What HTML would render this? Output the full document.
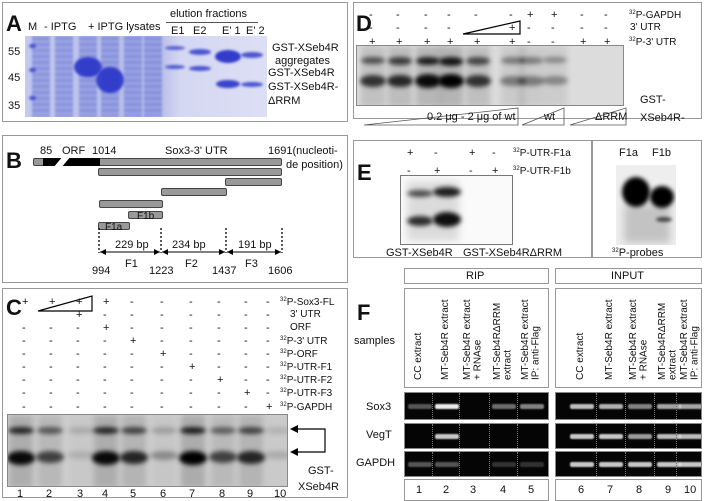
<!DOCTYPE html>
<html><head><meta charset="utf-8">
<style>
*{box-sizing:border-box;margin:0;padding:0}
body{width:705px;height:501px;background:#fff;position:relative;overflow:hidden;font-family:"Liberation Sans",sans-serif;color:#111}
.a{position:absolute}
.box{position:absolute;border:1.5px solid #999}
.t{position:absolute;font-size:11px;white-space:nowrap;line-height:1}
.s{font-size:10px}
.big{position:absolute;font-weight:bold;font-size:22px;line-height:1}
.band{position:absolute;border-radius:50%}
sup{font-size:6px;vertical-align:4px}
.bar{position:absolute;height:8px;background:#999;border:1px solid #444;border-radius:2px}
.vt{position:absolute;writing-mode:vertical-rl;transform:rotate(180deg);font-size:10px;white-space:nowrap;line-height:1.05}
</style></head><body>

<!-- Panel A -->
<div class="box" style="left:2px;top:2px;width:346px;height:120px"></div>
<div class="big" style="left:6px;top:13px">A</div>
<div class="t" style="left:28px;top:22px">M</div>
<div class="t" style="left:44px;top:22px">- IPTG</div>
<div class="t" style="left:88px;top:22px">+ IPTG lysates</div>
<div class="t" style="left:170px;top:9px">elution fractions</div>
<div class="a" style="left:166px;top:22px;width:92px;height:1px;background:#555"></div>
<div class="t" style="left:171px;top:26px">E1</div>
<div class="t" style="left:193px;top:26px">E2</div>
<div class="t" style="left:222px;top:26px">E' 1</div>
<div class="t" style="left:246px;top:26px">E' 2</div>
<div class="a" id="gelA" style="left:25px;top:36px;width:242px;height:81px;background:linear-gradient(90deg,#c4c9ee 0,#b4bbe8 55%,#d4d7f2 64%,#dcdff4 100%);overflow:hidden"></div>
<div class="t" style="left:8px;top:47px">55</div>
<div class="t" style="left:8px;top:73px">45</div>
<div class="t" style="left:8px;top:101px">35</div>
<div class="t" style="left:272px;top:43px">GST-XSeb4R</div>
<div class="t" style="left:275px;top:56px">aggregates</div>
<div class="t" style="left:268px;top:68px">GST-XSeb4R</div>
<div class="t" style="left:268px;top:82px">GST-XSeb4R-</div>
<div class="t" style="left:268px;top:96px">ΔRRM</div>

<!-- Panel B -->
<div class="box" style="left:2px;top:135px;width:346px;height:148px"></div>
<div class="big" style="left:6px;top:150px">B</div>
<div class="t" style="left:40px;top:146px">85</div>
<div class="t" style="left:62px;top:146px">ORF</div>
<div class="t" style="left:92px;top:146px">1014</div>
<div class="t" style="left:165px;top:146px">Sox3-3' UTR</div>
<div class="t" style="left:268px;top:146px">1691(nucleoti-</div>
<div class="t" style="left:286px;top:160px">de position)</div>
<div class="bar" style="left:33px;top:158px;width:249px"></div>
<div class="a" style="left:43px;top:158px;width:57px;height:8px;background:#000"></div>
<div class="a" style="left:58px;top:155px;width:8px;height:14px;background:#fff;transform:skewX(-40deg)"></div>
<div class="bar" style="left:98px;top:168px;width:184px"></div>
<div class="bar" style="left:225px;top:178px;width:57px"></div>
<div class="bar" style="left:161px;top:188px;width:66px"></div>
<div class="bar" style="left:99px;top:200px;width:64px"></div>
<div class="bar" style="left:128px;top:211px;width:35px"></div>
<div class="t s" style="left:137px;top:212px">F1b</div>
<div class="bar" style="left:98px;top:222px;width:32px"></div>
<div class="t s" style="left:105px;top:223px">F1a</div>
<svg class="a" style="left:0;top:0" width="350" height="285">
<g stroke="#000" stroke-dasharray="2,2" stroke-width="1.3"><line x1="99" y1="228" x2="99" y2="253"/><line x1="161" y1="228" x2="161" y2="253"/><line x1="226" y1="228" x2="226" y2="253"/><line x1="282" y1="228" x2="282" y2="253"/></g>
<g stroke="#000" stroke-width="1"><line x1="100" y1="252" x2="160" y2="252"/><line x1="162" y1="252" x2="225" y2="252"/><line x1="227" y1="252" x2="281" y2="252"/></g>
<g fill="#000"><polygon points="100,252 106,249 106,255"/><polygon points="160,252 154,249 154,255"/><polygon points="162,252 168,249 168,255"/><polygon points="225,252 219,249 219,255"/><polygon points="227,252 233,249 233,255"/><polygon points="281,252 275,249 275,255"/></g>
</svg>
<div class="t" style="left:115px;top:240px;background:#fff">229 bp</div>
<div class="t" style="left:172px;top:240px;background:#fff">234 bp</div>
<div class="t" style="left:238px;top:240px;background:#fff">191 bp</div>
<div class="t" style="left:125px;top:259px">F1</div>
<div class="t" style="left:185px;top:259px">F2</div>
<div class="t" style="left:245px;top:259px">F3</div>
<div class="t" style="left:92px;top:266px">994</div>
<div class="t" style="left:149px;top:266px">1223</div>
<div class="t" style="left:212px;top:266px">1437</div>
<div class="t" style="left:268px;top:266px">1606</div>

<!-- Panel C -->
<div class="box" style="left:2px;top:288px;width:346px;height:210px"></div>
<div class="big" style="left:6px;top:297px">C</div>
<div id="cgrid"></div>
<svg class="a" style="left:0;top:288px" width="350" height="30"><polygon points="38,23 92,8 92,23" fill="none" stroke="#000" stroke-width="1.2"/></svg>
<div class="a" id="gelC" style="left:7px;top:414px;width:281px;height:73px;background:#cfcfcf;border:1px solid #888;overflow:hidden"></div>
<svg class="a" style="left:288px;top:420px" width="40" height="45">
<polyline points="8,9 37,9 37,32 8,32" fill="none" stroke="#000" stroke-width="1.2"/>
<polygon points="2,9 10,5 10,13"/><polygon points="2,32 10,28 10,36"/></svg>
<div class="t" style="left:308px;top:466px">GST-</div>
<div class="t" style="left:298px;top:482px">XSeb4R</div>

<!-- Panel D -->
<div class="box" style="left:353px;top:2px;width:349px;height:117px"></div>
<div class="big" style="left:356px;top:13px">D</div>
<div id="dgrid"></div>
<svg class="a" style="left:350px;top:0" width="355" height="130">
<polygon points="113,34 170,21 170,34" fill="none" stroke="#000" stroke-width="1.2"/>
<g fill="none" stroke="#555" stroke-width="0.8">
<polygon points="14,125 168,108 168,125"/><polygon points="172,125 214,108 214,125"/><polygon points="220,125 276,108 276,125"/></g></svg>
<div class="a" id="gelD" style="left:356px;top:45px;width:268px;height:61px;background:#dcdcdc;border:1px solid #888;overflow:hidden"></div>
<div class="t" style="left:427px;top:112px">0.2 μg - 2 μg of wt</div>
<div class="t" style="left:544px;top:112px">wt</div>
<div class="t" style="left:595px;top:112px">ΔRRM</div>
<div class="t" style="left:640px;top:95px">GST-</div>
<div class="t" style="left:640px;top:113px">XSeb4R-</div>

<!-- Panel E -->
<div class="box" style="left:353px;top:140px;width:349px;height:118px"></div>
<div class="a" style="left:591px;top:140px;width:1.5px;height:118px;background:#999"></div>
<div class="big" style="left:357px;top:162px">E</div>
<div id="egrid"></div>
<div class="a" style="left:400px;top:175px;width:113px;height:70px;background:#fafafa;border:1px solid #777;overflow:hidden">
<div class="band" style="left:6px;top:14px;width:26px;height:7px;background:#555;filter:blur(2.5px)"></div>
<div class="band" style="left:32px;top:11px;width:28px;height:10px;background:#222;filter:blur(2.5px)"></div>
<div class="band" style="left:6px;top:40px;width:26px;height:10px;background:#333;filter:blur(2.5px)"></div>
<div class="band" style="left:32px;top:36px;width:28px;height:15px;background:#111;filter:blur(2.5px)"></div>
<div class="a" style="left:6px;top:5px;width:52px;height:60px;background:rgba(0,0,0,.12);filter:blur(4px)"></div>
</div>
<div class="t" style="left:386px;top:248px">GST-XSeb4R</div>
<div class="t" style="left:463px;top:248px">GST-XSeb4RΔRRM</div>
<div class="t" style="left:619px;top:148px">F1a</div>
<div class="t" style="left:652px;top:148px">F1b</div>
<div class="a" style="left:616px;top:165px;width:60px;height:80px;background:#eee;overflow:hidden">
<div class="band" style="left:6px;top:12px;width:28px;height:30px;background:#000;filter:blur(2px)"></div>
<div class="band" style="left:34px;top:21px;width:24px;height:22px;background:#000;filter:blur(2px)"></div>
<div class="band" style="left:40px;top:52px;width:16px;height:5px;background:#555;filter:blur(1.5px)"></div>
<div class="a" style="left:8px;top:40px;width:46px;height:38px;background:rgba(0,0,0,.18);filter:blur(4px)"></div>
</div>
<div class="t" style="left:612px;top:248px"><sup>32</sup>P-probes</div>

<!-- Panel F -->
<div class="big" style="left:357px;top:302px">F</div>
<div class="t" style="left:354px;top:336px">samples</div>
<div class="box" style="left:404px;top:268px;width:145px;height:16px"></div>
<div class="t" style="left:466px;top:271px">RIP</div>
<div class="box" style="left:555px;top:268px;width:147px;height:16px"></div>
<div class="t" style="left:611px;top:271px">INPUT</div>
<div class="box" style="left:404px;top:288px;width:145px;height:100px"></div>
<div class="box" style="left:555px;top:288px;width:147px;height:100px"></div>
<div id="fgrid"></div>
<div class="t" style="left:366px;top:402px">Sox3</div>
<div class="t" style="left:366px;top:430px">VegT</div>
<div class="t" style="left:356px;top:458px">GAPDH</div>
<div class="box" style="left:404px;top:479px;width:145px;height:22px"></div>
<div class="box" style="left:555px;top:479px;width:147px;height:22px"></div>

<script>
function mk(parent,cls,style,text,name){
  const d=document.createElement('div');
  d.className=cls;d.style.cssText=style;
  if(text!==undefined)d.innerHTML=text;
  
  
  (parent||document.body).appendChild(d);return d;
}
// ---------- Panel A data ----------
const laneAx=[32,41,64,88,110,133,153,175,200,228,252];
// [x, y, width, height, darkness]
const bandsA=[[32,46,7,4,0.8],[32,70,7,4,0.8],[32,98,7,4,0.8],[88,67,28,20,0.9],[110,80,28,26,0.9],[175,48,20,4,0.7],[175,67,20,4,0.75],[200,52,22,6,0.8],[200,68,22,5,0.8],[228,56,26,13,0.95],[228,84,24,8,0.9],[252,55,22,6,0.8],[252,84,22,5,0.8]];
const gA=document.getElementById('gelA');
laneAx.slice(1,7).forEach(x=>{
  mk(gA,'a','left:'+(x-25-9)+'px;top:0;width:18px;height:81px;background:repeating-linear-gradient(180deg,#8791dc 0,#7480d8 3px,#a0a8e4 6px);opacity:.75;filter:blur(1px)','','lysate-lane');
});
bandsA.forEach(b=>{
  mk(gA,'band','left:'+(b[0]-25-b[2]/2)+'px;top:'+(b[1]-36-b[3]/2)+'px;width:'+b[2]+'px;height:'+b[3]+'px;background:rgba(40,52,200,'+b[4]+');filter:blur(1.2px)','','protein-band');
});
// ---------- Panel C data ----------
const laneCx=[20,49,80,105,133,163,192,222,250,277];
const signCx=[25,52,79,106,133,163,192,220,247,269];
const rowCy=[302,315,328,341,354,367,380,393,407];
const rowClabels=['<sup>32</sup>P-Sox3-FL','3\' UTR','ORF','<sup>32</sup>P-3\' UTR','<sup>32</sup>P-ORF','<sup>32</sup>P-UTR-F1','<sup>32</sup>P-UTR-F2','<sup>32</sup>P-UTR-F3','<sup>32</sup>P-GAPDH'];
const signsC=['++++------','--+-------','---+------','----+-----','-----+----','------+---','-------+--','--------+-','---------+'];
const upperC=[0.8,0.55,0.15,0.8,0.65,0.2,0.85,0.5,0.65,0.12];
const lowerC=[0.95,0.65,0.12,0.95,0.8,0.3,1.0,0.65,0.8,0.15];
const cg=document.getElementById('cgrid');
rowCy.forEach((y,r)=>{
  signCx.forEach((x,i)=>{
    if(r===1&&(i===0||i===1))return;
    mk(cg,'t','left:'+(x-3)+'px;top:'+(y-5)+'px',signsC[r][i],'c-sign');
  });
  mk(cg,'t s','left:'+(r===1||r===2?290:280)+'px;top:'+(y-5)+'px',rowClabels[r],'c-row-label');
});
const gC=document.getElementById('gelC');
laneCx.forEach((x,i)=>{
  mk(gC,'a','left:'+(x-7-12)+'px;top:0;width:24px;height:73px;background:rgba(0,0,0,'+(upperC[i]*0.2)+');filter:blur(3px)','','c-lane-smear');
  mk(gC,'band','left:'+(x-7-13)+'px;top:12px;width:26px;height:7px;background:rgba(0,0,0,'+upperC[i]+');filter:blur(2.5px)','','c-upper-band');
  mk(gC,'band','left:'+(x-7-14)+'px;top:36px;width:28px;height:'+(7+lowerC[i]*7)+'px;background:rgba(0,0,0,'+lowerC[i]+');filter:blur(2.5px)','','c-lower-band');
  mk(document.body,'t','left:'+(x-3)+'px;top:489px',String(i+1),'c-lane-number');
});
// ---------- Panel D data ----------
const laneDx=[372,399,427,450,477,512,530,554,583,607];
const rowDy=[15,28,42];
const signsD=['------++--','-----+----','++++++--++'];
const rowDlabels=['<sup>32</sup>P-GAPDH','3\' UTR','<sup>32</sup>P-3\' UTR'];
const upperD=[0.6,0.7,0.85,0.9,0.65,0.4,0.4,0.35,0,0];
const lowerD=[0.75,0.8,0.95,1.0,0.75,0.4,0.4,0.35,0,0];
const dg=document.getElementById('dgrid');
rowDy.forEach((y,r)=>{
  laneDx.forEach((x,i)=>{
    if(r===1&&i===4)return;
    mk(dg,'t','left:'+(x-3)+'px;top:'+(y-5)+'px',signsD[r][i],'d-sign');
  });
  mk(dg,'t s','left:'+(r===1?630:629)+'px;top:'+(y-5)+'px',rowDlabels[r],'d-row-label');
});
const gD=document.getElementById('gelD');
laneDx.forEach((x,i)=>{
  if(!upperD[i])return;
  mk(gD,'a','left:'+(x-356-12)+'px;top:0;width:24px;height:61px;background:rgba(0,0,0,'+(upperD[i]*0.2)+');filter:blur(3px)','','d-lane-smear');
  mk(gD,'band','left:'+(x-356-12)+'px;top:11px;width:24px;height:'+(5+upperD[i]*4)+'px;background:rgba(0,0,0,'+upperD[i]+');filter:blur(2.5px)','','d-upper-band');
  mk(gD,'band','left:'+(x-356-13)+'px;top:'+(31-lowerD[i]*3)+'px;width:26px;height:'+(7+lowerD[i]*7)+'px;background:rgba(0,0,0,'+lowerD[i]+');filter:blur(2.5px)','','d-lower-band');
});
// ---------- Panel E ----------
const laneEx=[410,437,472,495];
const signsE=['+-+-','-+-+'];
const rowEy=[153,171];
const rowElabels=['<sup>32</sup>P-UTR-F1a','<sup>32</sup>P-UTR-F1b'];
const eg=document.getElementById('egrid');
rowEy.forEach((y,r)=>{
  laneEx.forEach((x,i)=>mk(eg,'t','left:'+(x-3)+'px;top:'+(y-5)+'px',signsE[r][i],'e-sign'));
  mk(eg,'t s','left:513px;top:'+(y-5)+'px',rowElabels[r],'e-row-label');
});
// ---------- Panel F ----------
const laneFx=[419,446,473,503,531,581,610,639,668,690];
const sampleLabels=['CC extract','MT-Seb4R extract','MT-Seb4R extract<br>+ RNAse','MT-Seb4RΔRRM<br>extract','MT-Seb4R extract<br>IP: anti-Flag'];
const sox3=[0.35,1.0,0,0.45,0.55,0.8,0.75,0.55,0.7,0.7];
const vegt=[0,0.85,0,0,0,0.85,0.85,0.65,0.8,0.8];
const gapdh=[0.35,0.35,0,0.2,0.2,0.85,0.85,0.85,0.85,0.85];
const fg=document.getElementById('fgrid');
laneFx.forEach((x,i)=>{
  const lab=sampleLabels[i%5];
  const two=lab.indexOf('<br>')>0;
  mk(fg,'vt','left:'+(x-(two?10:5))+'px;top:292px;height:88px;text-align:left',lab,'f-sample-label');
  mk(fg,'t','left:'+(x-(i===9?6:3))+'px;top:485px',String(i+1),'f-lane-number');
});
const rowsF=[[392,28,sox3],[423,26,vegt],[451,26,gapdh]];
rowsF.forEach((rw,ri)=>{
  [[404,145,0,5],[555,147,5,10]].forEach(p=>{
    const g=mk(fg,'a','left:'+p[0]+'px;top:'+rw[0]+'px;width:'+p[1]+'px;height:'+rw[1]+'px;background:#050505;border:1.5px solid #888;overflow:hidden','','f-gel-row');
    for(let i=p[2];i<p[3];i++){
      const v=rw[2][i];
      if(i>p[2])mk(g,'a','left:'+(laneFx[i]-p[0]-15)+'px;top:0;width:0;height:100%;border-left:1px dotted #777','','f-lane-divider');
      if(!v)continue;
      mk(g,'band','left:'+(laneFx[i]-p[0]-12)+'px;top:'+(rw[1]/2-3)+'px;width:24px;height:5px;border-radius:2px;background:rgba(235,235,235,'+v+');filter:blur(.8px)','','f-pcr-band');
    }
  });
});
</script>
</body></html>
